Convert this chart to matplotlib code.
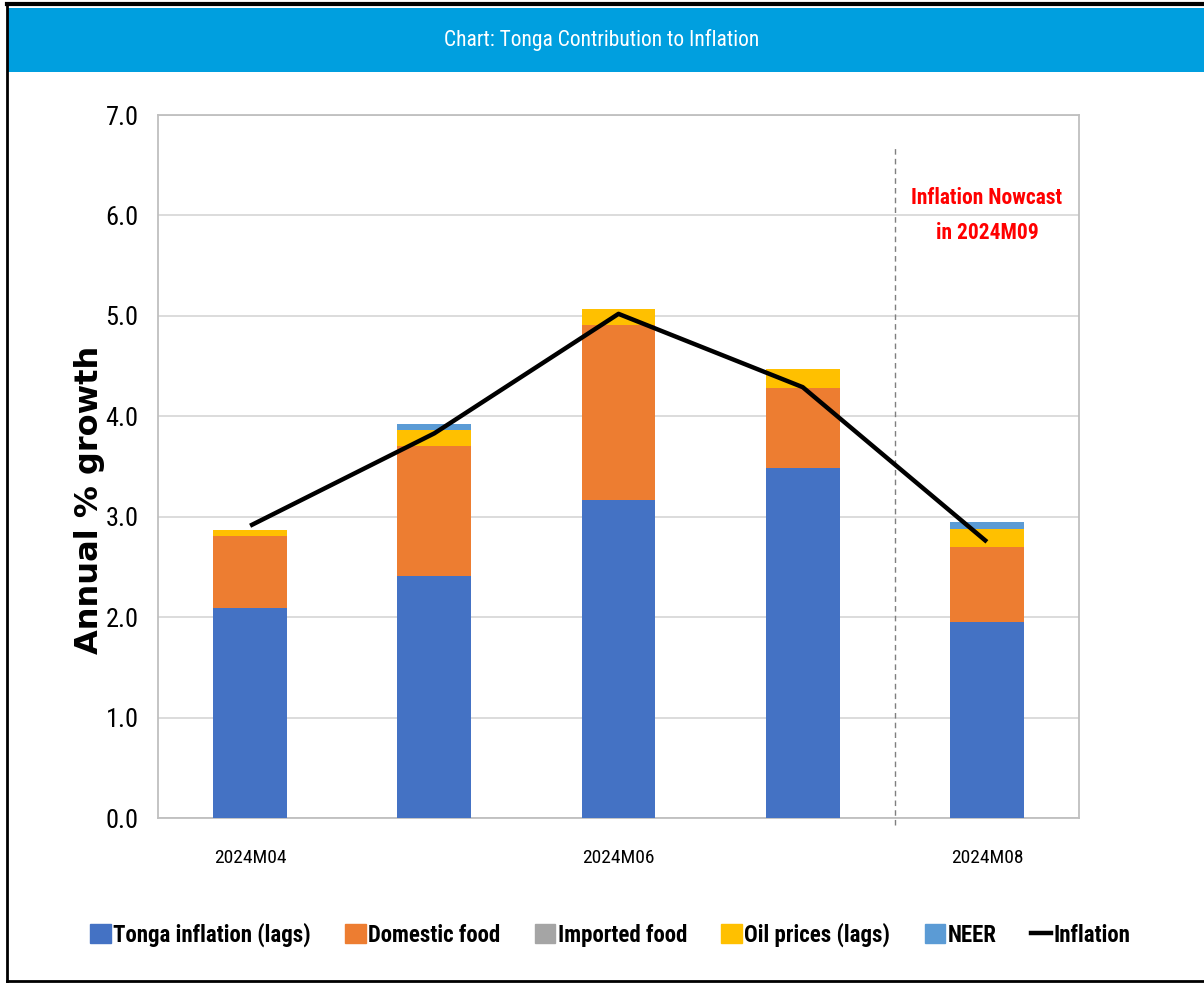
import matplotlib
matplotlib.use("Agg")
import matplotlib.pyplot as plt
import matplotlib.patches as mpatches
from matplotlib.lines import Line2D
from matplotlib.font_manager import fontManager, FontProperties
import numpy as np

categories = ["2024M04", "2024M05", "2024M06", "2024M07", "2024M08"]
tick_labels = ["2024M04", "", "2024M06", "", "2024M08"]
tonga_lags = [2.09, 2.41, 3.17, 3.49, 1.95]
domestic_food = [0.72, 1.29, 1.74, 0.79, 0.75]
imported_food = [0.0, 0.0, 0.0, 0.0, 0.0]
oil_prices = [0.06, 0.16, 0.16, 0.19, 0.18]
neer = [0.0, 0.06, 0.0, 0.0, 0.07]
inflation = [2.91, 3.83, 5.02, 4.29, 2.75]

series_names = ["Tonga inflation (lags)", "Domestic food", "Imported food", "Oil prices (lags)", "NEER"]
colors = ["#4472C4", "#ED7D31", "#A5A5A5", "#FFC000", "#5B9BD5"]


def is_narrow(f):
    n = f.name.lower()
    st = str(f.stretch).lower()
    fn = f.fname.lower()
    return ("narrow" in n or "condensed" in n or "condensed" in st or "narrow" in st
            or "condensed" in fn or "narrow" in fn)


def pick(bold):
    prefs = ["liberation sans narrow", "roboto condensed", "dejavu sans", "open sans", "noto sans", "roboto"]
    narrow = [f for f in fontManager.ttflist if is_narrow(f) and "mono" not in f.name.lower()
              and "serif" not in f.name.lower().replace("sans", "")]
    for p in prefs:
        for f in narrow:
            w = f.weight if isinstance(f.weight, int) else (700 if "bold" in str(f.weight) else 400)
            if f.name.lower().startswith(p) and (w >= 600) == bold and "italic" not in f.style \
                    and "oblique" not in f.style:
                return FontProperties(fname=f.fname)
    return None


NR = pick(False)
NB = pick(True)
if NR is None:
    NR = FontProperties(family="Roboto")
if NB is None:
    NB = FontProperties(family="Roboto", weight="bold")


def fp(base, size):
    p = base.copy()
    p.set_size(size)
    return p


fig = plt.figure(figsize=(12.04, 9.83), dpi=100)
fig.patch.set_facecolor("white")

band = mpatches.Rectangle((8/1204, 1-72/983), 1-8/1204, 64/983, transform=fig.transFigure,
                          facecolor="#009FDF", edgecolor="none", zorder=0)
fig.patches.append(band)
fig.text(0.5, 1-40/983, "Chart: Tonga Contribution to Inflation", ha="center", va="center",
         color="white", fontproperties=fp(NR, 15.5))
fig.add_artist(Line2D([7/1204, 7/1204], [2/983, 1-4/983], transform=fig.transFigure, color="black", lw=2))
fig.add_artist(Line2D([7/1204, 1], [1-4/983, 1-4/983], transform=fig.transFigure, color="black", lw=3))
fig.add_artist(Line2D([7/1204, 1], [2/983, 2/983], transform=fig.transFigure, color="black", lw=2))

ax = fig.add_axes([158/1204, 1-818/983, (1079-158)/1204, (818-115)/983])
x = np.arange(len(categories))
data = [tonga_lags, domestic_food, imported_food, oil_prices, neer]
bottom = np.zeros(len(categories))
handles = []
for vals, name, c in zip(data, series_names, colors):
    ax.bar(x, vals, width=0.4, bottom=bottom, color=c, edgecolor="none", zorder=3, label=name)
    handles.append(mpatches.Patch(color=c, label=name))
    bottom = bottom + np.array(vals)

ax.plot(x, inflation, color="black", lw=3.2, zorder=4, solid_capstyle="butt")
handles.append(Line2D([], [], color="black", lw=3.2, label="Inflation"))

ax.set_xlim(-0.5, 4.5)
ax.set_ylim(0, 7)
yt = np.arange(0, 7.01, 1.0)
ax.set_yticks(yt)
ax.set_yticklabels([f"{v:.1f}" for v in yt], fontproperties=fp(NR, 19))
ax.set_xticks(x)
ax.set_xticklabels(tick_labels, fontproperties=fp(NR, 14))
ax.tick_params(axis="both", length=0)
ax.tick_params(axis="x", pad=22)
ax.tick_params(axis="y", pad=14)
ax.grid(axis="y", color="#D9D9D9", lw=1.3, zorder=0)
for s in ax.spines.values():
    s.set_color("#BFBFBF")
    s.set_linewidth(1.3)

ax.plot([3.5, 3.5], [-0.07, 6.67], color="#7F7F7F", lw=1.0, ls=(0, (4, 3)), clip_on=False, zorder=2)
ax.text(4.0, 6.0, "Inflation Nowcast\nin 2024M09", color="red", fontproperties=fp(NB, 15.5),
        ha="center", va="center", linespacing=1.8)

ax.set_ylabel("Annual % growth", fontsize=23, fontweight="bold", family="DejaVu Sans")
ax.yaxis.set_label_coords(-0.058, 0.452)

leg = fig.legend(handles=handles, loc="center", bbox_to_anchor=(0.507, 1-935/983), ncol=6, frameon=False,
                 prop=fp(NB, 16.5),
                 handlelength=0.9, handleheight=0.9, handletextpad=0.1, columnspacing=1.5)

fig.savefig("out.png", dpi=100, facecolor="white")
